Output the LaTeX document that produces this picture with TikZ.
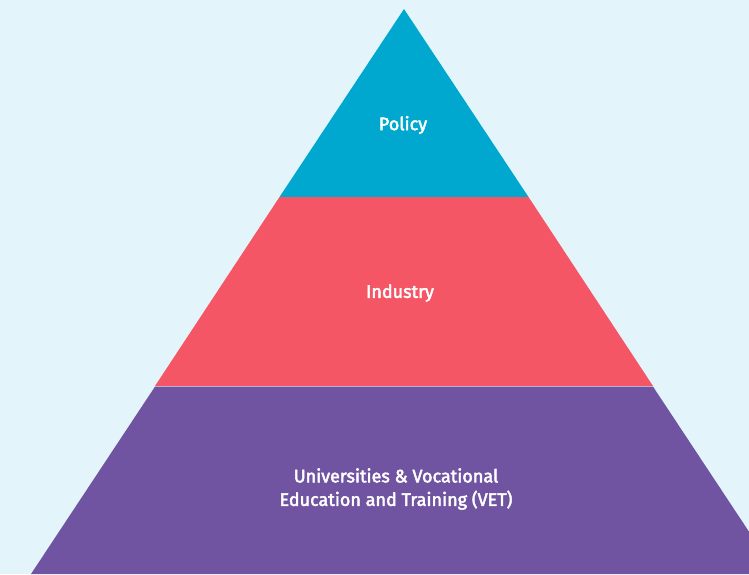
\documentclass[tikz,border=0pt]{standalone}
\usepackage{fontspec}
\setmainfont{Fira Sans}
\newfontfamily\lblfont{Fira Sans}[FakeBold=2.5]
\definecolor{bg}{HTML}{E3F5FA}
\definecolor{cteal}{HTML}{00A8CF}
\definecolor{cred}{HTML}{F45665}
\definecolor{cpurple}{HTML}{7053A1}
\begin{document}
\begin{tikzpicture}[x=1pt,y=-1pt,
  lbl/.style={text=white,font=\lblfont\fontsize{18}{23.5}\selectfont,align=center}]
\useasboundingbox (0,0) rectangle (749,574);
\fill[bg] (0,0) rectangle (749,574);
\begin{scope}
\clip (0,0) rectangle (749,574);
\fill[cteal] (404,9) -- (528.5,197) -- (279.5,197) -- cycle;
\fill[cred] (279.5,197) -- (528.5,197) -- (653,386) -- (155,386) -- cycle;
\fill[cpurple] (155,386.6) -- (653,386.6) -- (777,574) -- (31,574) -- cycle;
\end{scope}
\node[lbl] (policy) at (403,125) {Policy};
\node[lbl] (industry) at (400,293) {Industry};
\node[lbl] (base) at (396,489) {Universities \& Vocational\\Education and Training (VET)};
\end{tikzpicture}
\end{document}
